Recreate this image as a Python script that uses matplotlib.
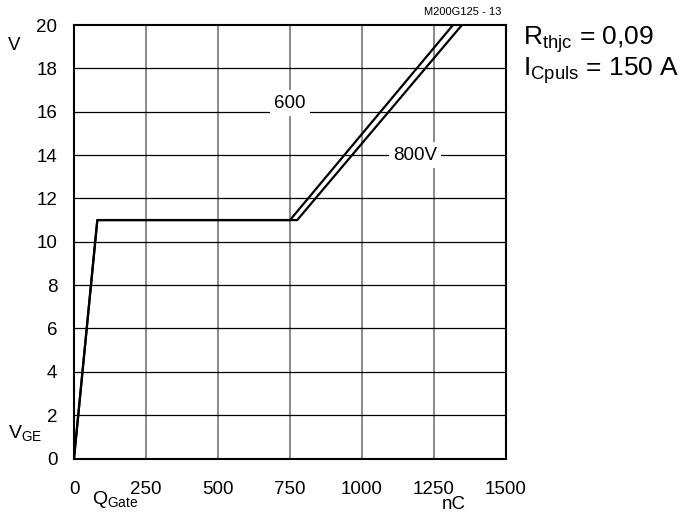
import matplotlib
matplotlib.use("Agg")
import matplotlib.pyplot as plt

plt.rcParams['font.family'] = ['Liberation Sans', 'DejaVu Sans']
plt.rcParams['mathtext.fontset'] = 'custom'
plt.rcParams['mathtext.rm'] = 'Liberation Sans'
plt.rcParams['mathtext.it'] = 'Liberation Sans'

# data
q_600 = [0, 81, 750, 1316]
v_600 = [0, 11, 11, 20]
q_800 = [0, 81, 775, 1347]
v_800 = [0, 11, 11, 20]
x_ticks = [0, 250, 500, 750, 1000, 1250, 1500]
y_ticks = [0, 2, 4, 6, 8, 10, 12, 14, 16, 18, 20]

fig = plt.figure(figsize=(6.82, 5.16), dpi=100)
ax = fig.add_axes([74/682, 1-458.5/516, 432/682, 433.5/516])
ax.set_xlim(0, 1500)
ax.set_ylim(0, 20)
ax.set_xticks(x_ticks)
ax.set_yticks(y_ticks)
ax.set_xticklabels([str(t) for t in x_ticks])
ax.set_yticklabels([str(t) for t in y_ticks])
ax.tick_params(length=0, labelsize=13.5)
ax.tick_params(axis='x', pad=16)
ax.tick_params(axis='y', pad=12)

for t in x_ticks[1:-1]:
    ax.axvline(t, color='#808080', lw=1.3, zorder=1)
for t in y_ticks[1:-1]:
    ax.axhline(t, color='black', lw=0.9, zorder=1)
for s in ax.spines.values():
    s.set_linewidth(1.5)

ax.plot(q_600, v_600, color='black', lw=1.6, zorder=3, clip_on=True)
ax.plot(q_800, v_800, color='black', lw=1.6, zorder=3, clip_on=True)

ax.text(750, 16.4, '600', fontsize=13.5, ha='center', va='center', zorder=4,
        bbox=dict(facecolor='white', edgecolor='none', pad=3))
ax.text(1185, 14.0, '800V', fontsize=13.5, ha='center', va='center', zorder=4,
        bbox=dict(facecolor='white', edgecolor='none', pad=3))

fig.text(463/682, 1-12/516, 'M200G125 - 13', fontsize=8, ha='center', va='center')
fig.text(8/682, 1-45/516, 'V', fontsize=13.5, ha='left', va='center')
fig.text(8/682, 1-433/516, r'$\mathregular{V_{GE}}$', fontsize=14, ha='left', va='center')
fig.text(92/682, 1-504/516, r'$\mathregular{Q_{Gate}}$', fontsize=14, ha='left', va='baseline')
fig.text(442/682, 1-509/516, 'nC', fontsize=13.5, ha='left', va='baseline')
fig.text(523/682, 1-40/516, r'$\mathregular{R_{thjc}}$ = 0,09', fontsize=19, ha='left', va='center')
fig.text(523/682, 1-71/516, r'$\mathregular{I_{Cpuls}}$ = 150 A', fontsize=19, ha='left', va='center')

fig.savefig('out.png', dpi=100)
